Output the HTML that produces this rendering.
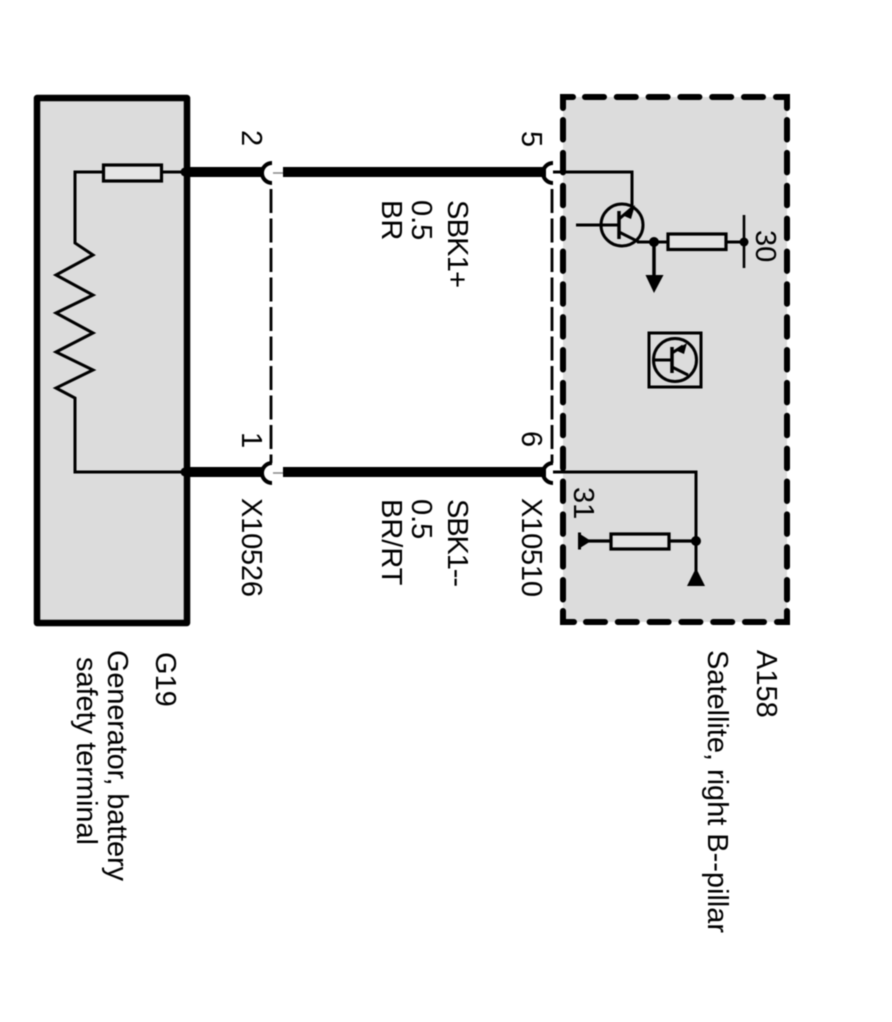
<!DOCTYPE html>
<html><head><meta charset="utf-8"><style>
html,body{margin:0;padding:0;background:#fff}
svg{display:block;filter:blur(0.45px)}
text{font-family:"Liberation Sans",sans-serif;font-size:29px;fill:#000}
</style></head><body>
<svg width="892" height="1022" viewBox="0 0 892 1022" xmlns="http://www.w3.org/2000/svg">
<rect width="892" height="1022" fill="#fff"/>
<!-- G19 box -->
<rect x="37" y="98" width="150" height="525" fill="#dcdcdc" stroke="#000" stroke-width="6.500" stroke-linejoin="round"/>
<!-- A158 box -->
<rect x="563" y="97" width="224" height="525" fill="#dcdcdc"/>
<g fill="none" stroke="#000" stroke-width="6" stroke-linecap="round">
<path d="M563 108V97H573"/><path d="M776 97H787V108"/><path d="M787 611V622H777"/><path d="M574 622H563V611"/>
<path d="M585 97H765" stroke-dasharray="19 12.800"/>
<path d="M586 622H765" stroke-dasharray="19 12.800"/>
<path d="M563 120V600" stroke-dasharray="19.500 13.360"/>
<path d="M787 120V600" stroke-dasharray="19.500 13.360"/>
</g>
<!-- white halo near connector gaps -->
<path d="M553 175h7v11h-7zM553 475h7v11h-7z" fill="#fff"/>
<!-- thick wires -->
<g stroke="#000" stroke-width="10" fill="none">
<path d="M184 172H264M283 172H546"/>
<path d="M184 472H264M283 472H546"/>
</g>
<circle cx="185" cy="172" r="4.500"/><circle cx="185" cy="472" r="4.500"/>
<!-- connector arcs -->
<g fill="none" stroke="#000" stroke-width="4">
<path d="M272 163A9.500 9.500 0 0 0 272 183"/>
<path d="M272 463A9.500 9.500 0 0 0 272 483"/>
<path d="M553 163A9.500 9.500 0 0 0 553 183"/>
<path d="M553 463A9.500 9.500 0 0 0 553 483"/>
</g>
<path d="M273 173H283" stroke="#888" stroke-width="1.500"/>
<path d="M273 473H283" stroke="#888" stroke-width="1.500"/>
<!-- dashed shields -->
<g fill="none" stroke="#000" stroke-width="2.800">
<path d="M271 184V463" stroke-dasharray="24 5.500" stroke-dashoffset="-5"/>
<path d="M552 184V463" stroke-dasharray="24 5.500" stroke-dashoffset="-5"/>
</g>
<!-- G19 internals -->
<g fill="none" stroke="#000" stroke-width="3" stroke-linejoin="miter">
<path d="M187 172H75V243L93 255L56 275L93 295L56 313L93 333L56 352L93 370L56 388L75 398V472H187"/>
<rect x="103.500" y="165" width="58" height="16" fill="#e4e4e4" stroke-width="3.200"/>
</g>
<!-- A158 top circuit -->
<g fill="none" stroke="#000" stroke-width="3">
<path d="M553 172H632V207"/>
<circle cx="622" cy="225" r="21"/>
<path d="M576 225H619"/>
<path d="M619 211V239" stroke-width="3.500"/>
<path d="M619 219L632 208"/>
<path d="M619 232L639 242"/>
<path d="M637 242H667M727 242H744"/>
<path d="M654 242V278" stroke-width="3.500"/>
<path d="M744 215V268" stroke-width="2.600"/>
<rect x="668" y="234" width="58" height="15.500" fill="#e4e4e4" stroke-width="3.200"/>
</g>
<path d="M622 215L635 205L631 219Z"/>
<circle cx="654" cy="242" r="5"/><circle cx="744" cy="242" r="4.500"/>
<path d="M645.500 275H663.500L654 293Z"/>
<!-- icon -->
<g fill="none" stroke="#000" stroke-width="3">
<rect x="649" y="333" width="52" height="54"/>
<circle cx="675" cy="360" r="21.500"/>
<path d="M655 360H672"/>
<path d="M672 347V373" stroke-width="3.500"/>
<path d="M672 353L683 346"/>
<path d="M672 367L688 375"/>
</g>
<path d="M675 350L687 343L684 354Z"/>
<!-- A158 bottom circuit -->
<g fill="none" stroke="#000" stroke-width="3">
<path d="M553 472H696V572"/>
<path d="M584 541H696" stroke-width="3.200"/>
<rect x="611" y="534" width="58" height="15" fill="#e4e4e4" stroke-width="3.200"/>
</g>
<circle cx="696" cy="541" r="5"/>
<path d="M687 586H705L696 568Z"/>
<path d="M578 532.500H581V549.500H578Z"/>
<path d="M580 534L591 541L580 548Z"/>
<!-- text -->
<text transform="translate(242,130) rotate(90)">2</text>
<text transform="translate(242,432) rotate(90)">1</text>
<text transform="translate(242,498) rotate(90)" textLength="99">X10526</text>
<text transform="translate(522,131) rotate(90)">5</text>
<text transform="translate(522,431) rotate(90)">6</text>
<text transform="translate(522,498) rotate(90)" textLength="99">X10510</text>
<text transform="translate(448,200) rotate(90)" textLength="88">SBK1+</text>
<text transform="translate(412,200) rotate(90)">0.5</text>
<text transform="translate(382,200) rotate(90)">BR</text>
<text transform="translate(448,499) rotate(90)" textLength="88">SBK1--</text>
<text transform="translate(412,499) rotate(90)">0.5</text>
<text transform="translate(382,499) rotate(90)">BR/RT</text>
<text transform="translate(756,230) rotate(90)">30</text>
<text transform="translate(574,487) rotate(90)">31</text>
<text transform="translate(156,652) rotate(90)">G19</text>
<text transform="translate(108,650) rotate(90)" textLength="231">Generator, battery</text>
<text transform="translate(77,657) rotate(90)" textLength="188">safety terminal</text>
<text transform="translate(757,650) rotate(90)">A158</text>
<text transform="translate(708,650) rotate(90)" textLength="283">Satellite, right B--pillar</text>
</svg>
</body></html>
